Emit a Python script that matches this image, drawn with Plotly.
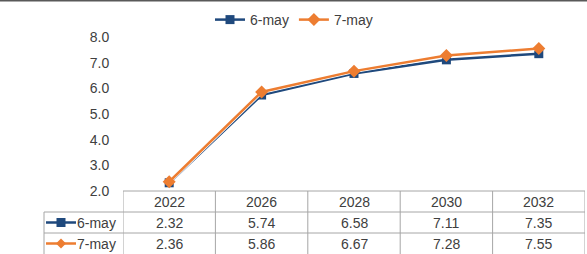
import plotly.graph_objects as go

categories = ["2022", "2026", "2028", "2030", "2032"]
series_names = ["6-may", "7-may"]
may6 = [2.32, 5.74, 6.58, 7.11, 7.35]
may7 = [2.36, 5.86, 6.67, 7.28, 7.55]
y_ticks = [2.0, 3.0, 4.0, 5.0, 6.0, 7.0, 8.0]

W, H = 587, 254
L, R, T, B = 123, 2, 37, 63
PW, PH = W - L - R, H - T - B

def px_x(px):
    return (px - L) / PW

def px_y(py):
    return (H - B - py) / PH

blue = "#1F497D"
orange = "#ED7D31"
txt = "#404040"
grid = "#A6A6A6"
FONT = "Liberation Sans, Arial, sans-serif"
FS = 14

series = [(series_names[0], may6, blue, "square", 9),
          (series_names[1], may7, orange, "diamond", 10)]

fig = go.Figure()
for name, vals, col, sym, ms in series:
    fig.add_trace(go.Scatter(x=categories, y=vals, mode="lines",
                             line=dict(color="white", width=4),
                             showlegend=False, hoverinfo="skip"))
    fig.add_trace(go.Scatter(x=categories, y=vals, name=name, mode="lines+markers",
                             line=dict(color=col, width=2.5),
                             marker=dict(symbol=sym, size=ms, color=col)))

shapes = []
annotations = []
# top border line
shapes.append(dict(type="rect", xref="paper", yref="paper",
                   x0=px_x(0), x1=px_x(W), y0=px_y(0), y1=px_y(1.6),
                   fillcolor="#595959", line=dict(width=0), layer="above"))
# table horizontal lines
row_lines = [191, 212, 233]
for i, py in enumerate(row_lines):
    x0 = 123 if i == 0 else 44
    shapes.append(dict(type="line", xref="paper", yref="paper",
                       x0=px_x(x0), x1=px_x(585), y0=px_y(py), y1=px_y(py),
                       line=dict(color=grid, width=1)))
# vertical lines: column boundaries in category units
for k in range(len(categories) + 1):
    xb = k - 0.5
    shapes.append(dict(type="line", xref="x", yref="paper",
                       x0=xb, x1=xb, y0=px_y(191), y1=px_y(H + 2),
                       line=dict(color=grid, width=1)))
shapes.append(dict(type="line", xref="paper", yref="paper",
                   x0=px_x(44), x1=px_x(44), y0=px_y(212), y1=px_y(H + 2),
                   line=dict(color=grid, width=1)))

# header row
for i, c in enumerate(categories):
    annotations.append(dict(x=i, xref="x", y=px_y(201.5), yref="paper",
                            xanchor="center", yanchor="middle",
                            text=c, showarrow=False,
                            font=dict(family=FONT, size=FS, color=txt)))
row_centers = [222.5, 243.5]
for (name, vals, col, sym, ms), yc in zip(series, row_centers):
    for i, v in enumerate(vals):
        annotations.append(dict(x=i, xref="x", y=px_y(yc), yref="paper",
                                xanchor="center", yanchor="middle",
                                text=f"{v:.2f}", showarrow=False,
                                font=dict(family=FONT, size=FS, color=txt)))
    annotations.append(dict(x=px_x(75), xref="paper", y=px_y(yc), yref="paper",
                            text=name, showarrow=False, xanchor="left",
                            yanchor="middle",
                            font=dict(family=FONT, size=FS, color=txt)))
    # legend key in table
    shapes.append(dict(type="line", xref="paper", yref="paper",
                       x0=px_x(46), x1=px_x(76), y0=px_y(yc), y1=px_y(yc),
                       line=dict(color=col, width=2.5)))
    cx = 61
    if sym == "square":
        shapes.append(dict(type="rect", xref="paper", yref="paper",
                           x0=px_x(cx - 4.5), x1=px_x(cx + 4.5),
                           y0=px_y(yc + 4.5), y1=px_y(yc - 4.5),
                           fillcolor=col, line=dict(width=0)))
    else:
        path = (f"M {px_x(cx - 5)} {px_y(yc)} L {px_x(cx)} {px_y(yc - 5)} "
                f"L {px_x(cx + 5)} {px_y(yc)} L {px_x(cx)} {px_y(yc + 5)} Z")
        shapes.append(dict(type="path", xref="paper", yref="paper", path=path,
                           fillcolor=col, line=dict(width=0)))

fig.update_layout(
    width=W, height=H,
    margin=dict(l=L, r=R, t=T, b=B, autoexpand=False),
    paper_bgcolor="white", plot_bgcolor="white",
    font=dict(family=FONT, size=FS, color=txt),
    showlegend=True,
    legend=dict(orientation="h", x=px_x(294), xanchor="center",
                y=px_y(4), yanchor="top", bgcolor="rgba(0,0,0,0)",
                font=dict(family=FONT, size=FS, color=txt),
                itemwidth=30, tracegroupgap=0),
    xaxis=dict(type="category", range=[-0.5, len(categories) - 0.5],
               showticklabels=False, showgrid=False, zeroline=False,
               showline=False, ticks=""),
    yaxis=dict(range=[2.0, 8.0], tickvals=y_ticks,
               ticktext=[f"{v:.1f}" for v in y_ticks],
               showgrid=False, zeroline=False, showline=False,
               ticks="outside", ticklen=10, tickcolor="rgba(0,0,0,0)",
               automargin=False,
               tickfont=dict(family=FONT, size=FS, color=txt)),
    shapes=shapes, annotations=annotations,
)

fig.write_html("out.html", config={"displayModeBar": False},
               post_script="document.body.style.margin='0px';document.body.style.overflow='hidden';")
